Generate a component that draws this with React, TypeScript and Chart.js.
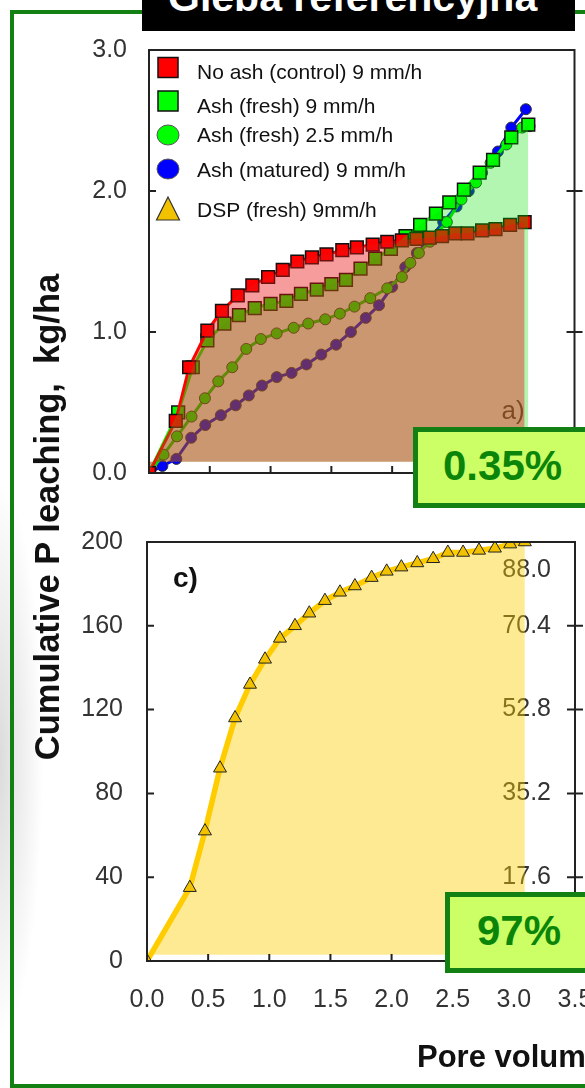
import React, { useEffect, useRef } from "react";
import { Chart, registerables } from "chart.js";

Chart.register(...registerables);

const FONT = 'Arial, "Liberation Sans", Helvetica, sans-serif';

// ---- axis tick values ----
const PORE_TICKS = [0.5, 1.0, 1.5, 2.0, 2.5, 3.0];
const TOP_INNER_TICKS = [1, 2];
const BOTTOM_INNER_TICKS = [40, 80, 120, 160];
const RIGHT_AXIS_TICKS = [17.6, 35.2, 52.8, 70.4, 88.0];

// ---- legend ----
const LEGEND_LABELS = [
  "No ash (control) 9 mm/h",
  "Ash (fresh) 9 mm/h",
  "Ash (fresh) 2.5 mm/h",
  "Ash (matured) 9 mm/h",
  "DSP (fresh) 9mm/h",
];

// ---- panel a) data: pore volume vs cumulative P (kg/ha) ----
const NOASH_X = [0, 0.22, 0.33, 0.48, 0.6, 0.73, 0.85, 0.98, 1.1, 1.22, 1.34, 1.46, 1.59, 1.71, 1.84, 1.96, 2.08, 2.2, 2.31, 2.41, 2.52, 2.62, 2.74, 2.85, 2.97, 3.09];
const NOASH_Y = [0, 0.37, 0.75, 1.01, 1.15, 1.26, 1.33, 1.39, 1.44, 1.5, 1.53, 1.55, 1.58, 1.6, 1.62, 1.64, 1.65, 1.66, 1.67, 1.68, 1.7, 1.7, 1.72, 1.73, 1.76, 1.78];

const ASHF9_X = [0, 0.24, 0.36, 0.48, 0.62, 0.74, 0.87, 1.0, 1.13, 1.25, 1.38, 1.5, 1.62, 1.74, 1.86, 1.99, 2.11, 2.23, 2.36, 2.47, 2.59, 2.72, 2.83, 2.98, 3.12];
const ASHF9_Y = [0, 0.43, 0.75, 0.94, 1.06, 1.12, 1.17, 1.2, 1.22, 1.27, 1.3, 1.34, 1.37, 1.45, 1.52, 1.59, 1.68, 1.76, 1.84, 1.92, 2.01, 2.13, 2.22, 2.38, 2.47];

const ASHF25_X = [0, 0.12, 0.23, 0.35, 0.46, 0.57, 0.685, 0.8, 0.92, 1.05, 1.19, 1.31, 1.45, 1.57, 1.69, 1.82, 1.96, 2.08, 2.15, 2.22, 2.31, 2.45, 2.57, 2.69, 2.81, 2.94, 3.07, 3.13];
const ASHF25_Y = [0, 0.13, 0.26, 0.4, 0.53, 0.65, 0.75, 0.88, 0.95, 0.99, 1.03, 1.06, 1.09, 1.13, 1.18, 1.24, 1.31, 1.39, 1.49, 1.56, 1.64, 1.78, 1.94, 2.06, 2.2, 2.33, 2.45, 2.46];

const ASHM9_X = [0, 0.11, 0.225, 0.347, 0.463, 0.591, 0.713, 0.821, 0.929, 1.051, 1.173, 1.295, 1.417, 1.539, 1.661, 1.783, 1.892, 2.0, 2.108, 2.203, 2.31, 2.42, 2.53, 2.63, 2.74, 2.87, 2.98, 3.1];
const ASHM9_Y = [0, 0.05, 0.1, 0.25, 0.34, 0.41, 0.48, 0.55, 0.62, 0.68, 0.71, 0.77, 0.84, 0.91, 1.0, 1.1, 1.19, 1.32, 1.46, 1.56, 1.66, 1.78, 1.89, 2.0, 2.13, 2.28, 2.45, 2.58];

// ---- panel c) data ----
const DSP_X = [0, 0.35, 0.474, 0.597, 0.72, 0.842, 0.965, 1.087, 1.21, 1.327, 1.455, 1.578, 1.7, 1.837, 1.96, 2.08, 2.21, 2.34, 2.46, 2.585, 2.715, 2.845, 2.97, 3.09];
const DSP_Y = [0, 35, 62, 92, 116, 132, 144, 154, 160, 166, 172, 176, 179, 183, 186, 188, 190, 192, 195, 195, 196, 197, 199, 200];

const RED = "#ff0000";
const GREEN = "#00ff00";
const BLUE = "#0000ff";
const GOLD = "#ffcc00";
const AXIS = "#222";
const FRAME_GREEN = "#138013";

const RED_AREA = "rgba(235, 20, 20, 0.42)";
const GREEN_AREA = "rgba(0, 225, 0, 0.30)";
const GOLD_AREA = "rgba(255, 205, 0, 0.42)";

const toPoints = (xs: number[], ys: number[]) => xs.map((x, i) => ({ x, y: ys[i] }));

function strokeBox(chart: any) {
  const { ctx, chartArea } = chart;
  ctx.save();
  ctx.strokeStyle = AXIS;
  ctx.lineWidth = 2;
  ctx.strokeRect(chartArea.left, chartArea.top, chartArea.right - chartArea.left, chartArea.bottom - chartArea.top);
  ctx.restore();
}

function drawTickMarks(chart: any, yInner: number[], rightId: string, rightVals: number[]) {
  const { ctx, chartArea, scales } = chart;
  const { left, right, bottom } = chartArea;
  ctx.save();
  ctx.strokeStyle = AXIS;
  ctx.lineWidth = 2;
  ctx.beginPath();
  for (const v of PORE_TICKS) {
    const px = scales.x.getPixelForValue(v);
    ctx.moveTo(px, bottom);
    ctx.lineTo(px, bottom - 7);
  }
  for (const v of yInner) {
    const py = scales.y.getPixelForValue(v);
    ctx.moveTo(left, py);
    ctx.lineTo(left + 7, py);
  }
  for (const v of rightVals) {
    const py = scales[rightId].getPixelForValue(v);
    ctx.moveTo(right - 8, py);
    ctx.lineTo(right + 8, py);
  }
  ctx.stroke();
  ctx.restore();
}

function drawLegend(ctx: CanvasRenderingContext2D) {
  const mx = 168;
  const markerY = [67.5, 101, 135, 169, 209];
  const textY = [79, 113, 141.5, 176.5, 216.5];
  ctx.save();
  ctx.lineWidth = 1.5;
  ctx.strokeStyle = "#111";
  [RED, GREEN].forEach((c, i) => {
    ctx.fillStyle = c;
    ctx.fillRect(mx - 10, markerY[i] - 10, 20, 20);
    ctx.strokeRect(mx - 10, markerY[i] - 10, 20, 20);
  });
  [GREEN, BLUE].forEach((c, j) => {
    const i = j + 2;
    ctx.fillStyle = c;
    ctx.beginPath();
    ctx.ellipse(mx, markerY[i], 11, 10, 0, 0, Math.PI * 2);
    ctx.fill();
    ctx.lineWidth = 1;
    ctx.strokeStyle = "#555";
    ctx.stroke();
  });
  ctx.fillStyle = "#f2c200";
  ctx.strokeStyle = "#333";
  ctx.lineWidth = 1.2;
  ctx.beginPath();
  ctx.moveTo(mx, markerY[4] - 12);
  ctx.lineTo(mx - 11.5, markerY[4] + 11);
  ctx.lineTo(mx + 11.5, markerY[4] + 11);
  ctx.closePath();
  ctx.fill();
  ctx.stroke();
  ctx.fillStyle = "#111";
  ctx.font = `21px ${FONT}`;
  ctx.textBaseline = "alphabetic";
  ctx.textAlign = "left";
  LEGEND_LABELS.forEach((t, i) => ctx.fillText(t, 197, textY[i]));
  ctx.restore();
}

const topDecor = {
  id: "topDecor",
  beforeDatasetsDraw(chart: any) {
    const { ctx, chartArea } = chart;
    ctx.save();
    ctx.font = `26px ${FONT}`;
    ctx.fillStyle = "#444";
    ctx.textBaseline = "alphabetic";
    ctx.fillText("a)", chartArea.right - 73, chartArea.bottom - 54);
    ctx.restore();
  },
  afterDraw(chart: any) {
    strokeBox(chart);
    drawTickMarks(chart, TOP_INNER_TICKS, "y", TOP_INNER_TICKS);
    drawLegend(chart.ctx);
  },
};

const bottomDecor = {
  id: "bottomDecor",
  beforeDatasetsDraw(chart: any) {
    const { ctx, chartArea, scales } = chart;
    ctx.save();
    ctx.font = `25px ${FONT}`;
    ctx.fillStyle = "#333";
    ctx.textAlign = "right";
    ctx.textBaseline = "middle";
    for (const v of RIGHT_AXIS_TICKS) {
      const py = Math.max(scales.y2.getPixelForValue(v), chartArea.top + 28);
      ctx.fillText(v.toFixed(1), chartArea.right - 24, py);
    }
    ctx.restore();
  },
  afterDraw(chart: any) {
    const { ctx, chartArea } = chart;
    strokeBox(chart);
    drawTickMarks(chart, BOTTOM_INNER_TICKS, "y2", RIGHT_AXIS_TICKS.slice(0, 4));
    ctx.save();
    ctx.font = `bold 28px ${FONT}`;
    ctx.fillStyle = "#111";
    ctx.textBaseline = "alphabetic";
    ctx.fillText("c)", chartArea.left + 26, chartArea.top + 45);
    ctx.restore();
  },
};

const tickFont = { family: FONT, size: 25 };

export default function App() {
  const topRef = useRef<HTMLCanvasElement>(null);
  const botRef = useRef<HTMLCanvasElement>(null);

  useEffect(() => {
    const common = {
      responsive: false,
      animation: false as const,
      events: [] as any[],
      plugins: { legend: { display: false }, tooltip: { enabled: false } },
    };

    const top = new Chart(topRef.current!, {
      type: "line",
      data: {
        datasets: [
          {
            label: LEGEND_LABELS[0],
            data: toPoints(NOASH_X, NOASH_Y),
            borderColor: RED,
            borderWidth: 3,
            pointStyle: "rect",
            pointRadius: 9,
            pointBackgroundColor: RED,
            pointBorderColor: "#111",
            pointBorderWidth: 1.5,
            fill: false,
            order: 1,
          },
          {
            label: LEGEND_LABELS[1],
            data: toPoints(ASHF9_X, ASHF9_Y),
            borderColor: GREEN,
            borderWidth: 3,
            pointStyle: "rect",
            pointRadius: 9,
            pointBackgroundColor: GREEN,
            pointBorderColor: "#111",
            pointBorderWidth: 1.5,
            fill: false,
            order: 1,
          },
          {
            label: LEGEND_LABELS[2],
            data: toPoints(ASHF25_X, ASHF25_Y),
            borderColor: "#00dd00",
            borderWidth: 3,
            pointStyle: "circle",
            pointRadius: 5.5,
            pointBackgroundColor: GREEN,
            pointBorderColor: "#333",
            pointBorderWidth: 1,
            fill: false,
            order: 1,
          },
          {
            label: LEGEND_LABELS[3],
            data: toPoints(ASHM9_X, ASHM9_Y),
            borderColor: BLUE,
            borderWidth: 3,
            pointStyle: "circle",
            pointRadius: 5.5,
            pointBackgroundColor: BLUE,
            pointBorderColor: "#333",
            pointBorderWidth: 1,
            fill: false,
            order: 1,
          },
          {
            label: "area " + LEGEND_LABELS[0],
            data: toPoints(NOASH_X, NOASH_Y),
            borderColor: "transparent",
            borderWidth: 0,
            pointRadius: 0,
            backgroundColor: RED_AREA,
            fill: { value: 0.08 },
            order: 0,
          },
          {
            label: "area " + LEGEND_LABELS[1],
            data: toPoints(ASHF9_X, ASHF9_Y),
            borderColor: "transparent",
            borderWidth: 0,
            pointRadius: 0,
            backgroundColor: GREEN_AREA,
            fill: { value: 0.08 },
            order: 0,
          },
        ],
      },
      options: {
        ...common,
        layout: { padding: { top: 50, right: 5, left: 0, bottom: 0 } },
        scales: {
          x: {
            type: "linear",
            min: 0,
            max: 3.5,
            grid: { display: false, drawTicks: false },
            border: { display: false },
            ticks: { display: false },
            afterFit: (s: any) => {
              s.height = 47;
              s.paddingLeft = 0;
              s.paddingRight = 0;
            },
          },
          y: {
            type: "linear",
            min: 0,
            max: 3,
            grid: { display: false, drawTicks: false },
            border: { display: false },
            ticks: {
              stepSize: 1,
              callback: (v: any) => Number(v).toFixed(1),
              font: tickFont,
              color: "#333",
              padding: 22,
            },
            afterFit: (s: any) => {
              s.width = 149;
              s.paddingTop = 0;
              s.paddingBottom = 0;
            },
          },
        },
      } as any,
      plugins: [topDecor],
    });

    const bottom = new Chart(botRef.current!, {
      type: "line",
      data: {
        datasets: [
          {
            label: LEGEND_LABELS[4],
            data: toPoints(DSP_X, DSP_Y),
            borderColor: GOLD,
            borderWidth: 5.5,
            pointStyle: "triangle",
            pointRadius: 7.5,
            pointBackgroundColor: "#f2c200",
            pointBorderColor: "#222",
            pointBorderWidth: 1,
            backgroundColor: GOLD_AREA,
            fill: { value: 3 },
          },
        ],
      },
      options: {
        ...common,
        layout: { padding: { top: 22, right: 10, left: 0, bottom: 0 } },
        scales: {
          x: {
            type: "linear",
            min: 0,
            max: 3.5,
            grid: { display: false, drawTicks: false },
            border: { display: false },
            ticks: {
              stepSize: 0.5,
              autoSkip: false,
              maxRotation: 0,
              callback: (v: any) => Number(v).toFixed(1),
              font: tickFont,
              color: "#333",
              padding: 24,
            },
            afterFit: (s: any) => {
              s.height = 127;
              s.paddingLeft = 0;
              s.paddingRight = 0;
            },
          },
          y: {
            type: "linear",
            min: 0,
            max: 200,
            grid: { display: false, drawTicks: false },
            border: { display: false },
            ticks: { stepSize: 40, font: tickFont, color: "#333", padding: 24 },
            afterFit: (s: any) => {
              s.width = 147;
              s.paddingTop = 0;
              s.paddingBottom = 0;
            },
          },
          y2: { type: "linear", display: false, position: "right", min: 0, max: 88 },
        },
      } as any,
      plugins: [bottomDecor],
    });

    return () => {
      top.destroy();
      bottom.destroy();
    };
  }, []);

  const abs: React.CSSProperties = { position: "absolute" };

  return (
    <div
      style={{
        position: "absolute",
        left: 0,
        top: 0,
        width: 585,
        height: 1088,
        overflow: "hidden",
        background: "#fff",
        fontFamily: FONT,
      }}
    >
      <div
        style={{
          ...abs,
          left: -20,
          top: 480,
          width: 90,
          height: 560,
          background: "radial-gradient(ellipse 50% 50% at 20% 50%, rgba(150,150,150,0.35), rgba(255,255,255,0))",
        }}
      />
      <div
        style={{
          ...abs,
          left: 10,
          top: 10,
          width: 700,
          height: 1078,
          border: `4px solid ${FRAME_GREEN}`,
          boxSizing: "border-box",
        }}
      />
      <canvas ref={topRef} width={585} height={520} style={{ ...abs, left: 0, top: 0, width: 585, height: 520 }} />
      <canvas ref={botRef} width={585} height={568} style={{ ...abs, left: 0, top: 520, width: 585, height: 568 }} />

      <div style={{ ...abs, left: 142, top: 0, width: 433, height: 31, background: "#000", overflow: "hidden" }}>
        <div
          style={{
            ...abs,
            left: 26,
            top: -23,
            fontSize: 41,
            lineHeight: "41px",
            fontWeight: "bold",
            color: "#fff",
            whiteSpace: "nowrap",
          }}
        >
          Gleba referencyjna
        </div>
      </div>

      <div
        style={{
          ...abs,
          left: -253,
          top: 500,
          width: 600,
          height: 34,
          lineHeight: "34px",
          fontSize: 34.5,
          fontWeight: "bold",
          color: "#111",
          textAlign: "center",
          whiteSpace: "nowrap",
          transform: "rotate(-90deg)",
        }}
      >
        Cumulative P leaching,&nbsp; kg/ha
      </div>

      <div
        style={{
          ...abs,
          left: 417,
          top: 1041,
          fontSize: 31,
          lineHeight: "31px",
          fontWeight: "bold",
          color: "#111",
          whiteSpace: "nowrap",
        }}
      >
        Pore volume
      </div>

      <div
        style={{
          ...abs,
          left: 413,
          top: 427,
          width: 200,
          height: 81,
          boxSizing: "border-box",
          border: `5px solid ${FRAME_GREEN}`,
          background: "#ccff66",
        }}
      />
      <div
        style={{
          ...abs,
          left: 443,
          top: 444.5,
          fontSize: 42,
          lineHeight: "42px",
          fontWeight: "bold",
          color: "#0a850a",
          whiteSpace: "nowrap",
        }}
      >
        0.35%
      </div>

      <div
        style={{
          ...abs,
          left: 445,
          top: 892,
          width: 200,
          height: 81,
          boxSizing: "border-box",
          border: `5px solid ${FRAME_GREEN}`,
          background: "#ccff66",
        }}
      />
      <div
        style={{
          ...abs,
          left: 477,
          top: 909.5,
          fontSize: 42,
          lineHeight: "42px",
          fontWeight: "bold",
          color: "#0a850a",
          whiteSpace: "nowrap",
        }}
      >
        97%
      </div>
    </div>
  );
}
